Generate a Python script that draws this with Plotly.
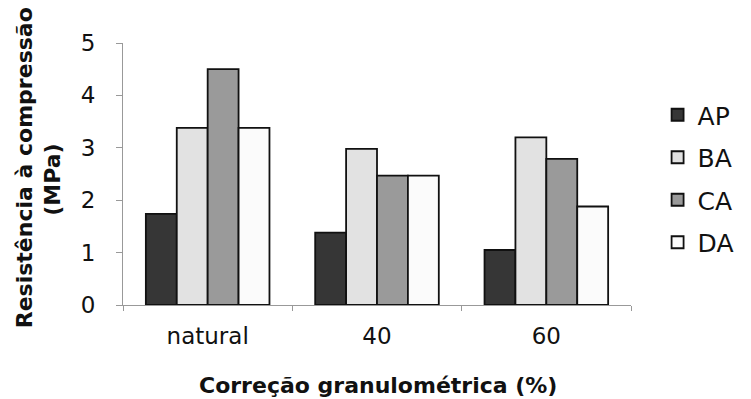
import plotly.graph_objects as go

categories = ["natural", "40", "60"]
series_names = ["AP", "BA", "CA", "DA"]
AP = [1.74, 1.38, 1.05]
BA = [3.38, 2.98, 3.20]
CA = [4.50, 2.47, 2.79]
DA = [3.38, 2.47, 1.88]
values = [AP, BA, CA, DA]
colors = ["#363636", "#e2e2e2", "#9a9a9a", "#fbfbfb"]
y_ticks = [0, 1, 2, 3, 4, 5]

fig = go.Figure()
for name, vals, col in zip(series_names, values, colors):
    fig.add_trace(go.Bar(
        x=categories, y=vals, name=name, legendgroup=name,
        marker=dict(color=col, line=dict(color="#111111", width=1.8)),
    ))

font_family = "DejaVu Sans, Arial, sans-serif"
plot_l, plot_r, plot_t, plot_b = 123, 658, 43, 305
pw, ph = plot_r - plot_l, plot_b - plot_t

def px_x(x):
    return (x - plot_l) / pw

def px_y(y):
    return (plot_b - y) / ph

fig.update_layout(
    width=751, height=399,
    margin=dict(l=plot_l, r=751 - plot_r, t=plot_t, b=399 - plot_b),
    paper_bgcolor="white", plot_bgcolor="white",
    barmode="group", bargap=0.27, bargroupgap=0,
    font=dict(family=font_family, size=23, color="#111111"),
    showlegend=True,
    legend=dict(x=px_x(686), y=px_y(92), xanchor="left", yanchor="top",
                font=dict(size=25, color="#111111"),
                traceorder="grouped", tracegroupgap=7,
                bgcolor="rgba(0,0,0,0)", itemwidth=30),
    xaxis=dict(showline=True, linecolor="#999999", linewidth=1,
               ticks="outside", tickson="boundaries", ticklen=5, tickcolor="#999999",
               tickfont=dict(size=23), showgrid=False, zeroline=False,
               ticklabelstandoff=10),
    yaxis=dict(range=[0, 5], tickvals=y_ticks, showline=True, linecolor="#999999", linewidth=1,
               ticks="outside", ticklen=6, tickcolor="#999999",
               tickfont=dict(size=23), showgrid=False, zeroline=False,
               ticklabelstandoff=16),
    annotations=[
        dict(text="Resistência à compressão", textangle=-90,
             x=px_x(19), y=px_y(168), xref="paper", yref="paper", showarrow=False,
             xanchor="center", yanchor="middle",
             font=dict(size=22, family=font_family, weight="bold")),
        dict(text="(MPa)", textangle=-90,
             x=px_x(49), y=px_y(180), xref="paper", yref="paper", showarrow=False,
             xanchor="center", yanchor="middle",
             font=dict(size=22, family=font_family, weight="bold")),
        dict(text="Correção granulométrica (%)",
             x=px_x(392), y=px_y(385), xref="paper", yref="paper", showarrow=False,
             xanchor="center", yanchor="middle",
             font=dict(size=22, family=font_family, weight="bold")),
    ],
)

fig.write_html("out.html")
